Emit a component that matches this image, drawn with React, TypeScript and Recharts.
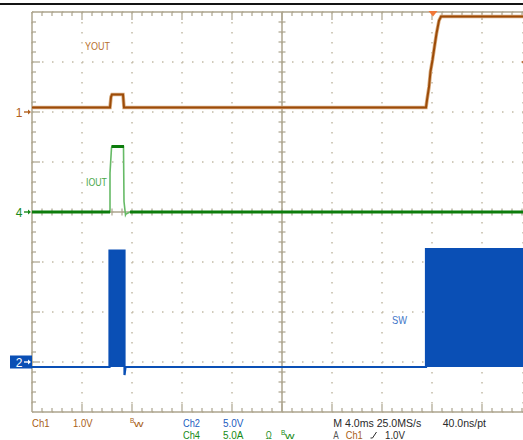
import React from 'react';
import {
  ComposedChart,
  Line,
  Area,
  Scatter,
  XAxis,
  YAxis,
  CartesianGrid,
  ReferenceDot,
} from 'recharts';

// Horizontal axis: screen divisions (M 4.0 ms/div), 0 = centre graticule line.
// Vertical axis: screen divisions, 0 = centre graticule line.
const X_DOMAIN: [number, number] = [-5, 4.82];
const Y_DOMAIN: [number, number] = [-4, 4];
const GRID_X = [-4, -3, -2, -1, 0, 1, 2, 3, 4];
const GRID_Y = [-3, -2, -1, 0, 1, 2, 3];

// Ch1 – VOUT (1.0 V/div)
const VOUT_T = [-5, -3.44, -3.42, -3.4, -3.18, -3.16, 2.88, 2.9, 2.94, 2.97, 3.01, 3.05, 3.09, 3.14, 3.18, 4.82];
const VOUT_V = [2.09, 2.09, 2.3, 2.35, 2.35, 2.09, 2.09, 2.24, 2.5, 2.81, 3.04, 3.31, 3.57, 3.83, 3.91, 3.91];

// Ch4 – IOUT (5.0 A/div)
const IOUT_T = [-5, -3.44, -3.44, -3.41, -3.4, -3.17, -3.16, -3.13, -3.12, -3.04, 4.82];
const IOUT_V = [0, 0, 0.78, 1.28, 1.31, 1.31, 0.21, -0.06, -0.04, 0, 0];
const IOUT_CORE_T = [-5, -3.44, -3.42, -3.41, -3.16, -3.15, -3.04, 4.82];
const IOUT_CORE_V = [0, 0, null, 1.31, 1.31, null, 0, 0];

// Ch2 – SW (5.0 V/div)
const SW_T = [-5, -3.45, -3.45, -3.15, -3.15, -3.13, 2.88, 2.88, 4.82];
const SW_V = [-3.1, -3.1, -0.77, -0.77, -3.26, -3.1, -3.1, -0.74, -0.74];
const SW_BASE = -3.1;

// Channel ground markers (divisions)
const CH1_LEVEL = 2;
const CH4_LEVEL = 0;
const CH2_LEVEL = -3;
const TRIG_POS = 3.02;
const TRIG_LEVEL = 3;

// Graticule subdivisions (5 per division)
const SUB_X = Array.from({ length: 49 }, (_, i) => Math.round((-4.8 + i * 0.2) * 10) / 10);
const SUB_Y = Array.from({ length: 39 }, (_, i) => Math.round((-3.8 + i * 0.2) * 10) / 10);

const zip = (t: (number | null)[], v: (number | null)[]) => t.map((x, i) => ({ t: x, v: v[i] }));

const voutData = zip(VOUT_T, VOUT_V);
const ioutData = zip(IOUT_T, IOUT_V);
const ioutCore = zip(IOUT_CORE_T, IOUT_CORE_V);
const swData = zip(SW_T, SW_V);

const topTicks = SUB_X.map((t) => ({ t, v: Y_DOMAIN[1] }));
const bottomTicks = SUB_X.map((t) => ({ t, v: Y_DOMAIN[0] }));
const leftTicks = SUB_Y.map((v) => ({ t: X_DOMAIN[0], v }));
const centreVTicks = SUB_Y.map((v) => ({ t: 0, v }));
const centreHTicks = SUB_X.map((t) => ({ t, v: 0 }));

const borderLeft = [{ t: X_DOMAIN[0], v: Y_DOMAIN[0] }, { t: X_DOMAIN[0], v: Y_DOMAIN[1] }];
const borderTop = [{ t: X_DOMAIN[0], v: Y_DOMAIN[1] }, { t: X_DOMAIN[1], v: Y_DOMAIN[1] }];
const borderBottom = [{ t: X_DOMAIN[0], v: Y_DOMAIN[0] }, { t: X_DOMAIN[1], v: Y_DOMAIN[0] }];
const centreV = [{ t: 0, v: Y_DOMAIN[0] }, { t: 0, v: Y_DOMAIN[1] }];
const centreH = [{ t: X_DOMAIN[0], v: 0 }, { t: X_DOMAIN[1], v: 0 }];

const GRAT = '#aca48e';
const FONT = '"Liberation Sans", Arial, sans-serif';

const isMajor = (x: number) => Math.abs(x - Math.round(x)) < 1e-6;

const tickShape = (kind: 'top' | 'bottom' | 'left' | 'cv' | 'ch') => (p: any) => {
  const { cx, cy, payload } = p;
  if (cx == null || cy == null) return <g />;
  let x2 = cx;
  let y2 = cy;
  let x1 = cx;
  let y1 = cy;
  if (kind === 'top') y2 = cy + (isMajor(payload.t) ? 8 : 4);
  if (kind === 'bottom') y2 = cy - (isMajor(payload.t) ? 8 : 4);
  if (kind === 'left') x2 = cx + (isMajor(payload.v) ? 8 : 4);
  if (kind === 'cv') {
    x1 = cx - 3.5;
    x2 = cx + 3.5;
  }
  if (kind === 'ch') {
    y1 = cy - 3.5;
    y2 = cy + 3.5;
  }
  return <line x1={x1} y1={y1} x2={x2} y2={y2} stroke={GRAT} strokeWidth={1.2} />;
};

const marker = (label: string, color: string, boxed: boolean) => (p: any) => {
  const { cx, cy } = p;
  const fg = boxed ? '#ffffff' : color;
  return (
    <g>
      {boxed && <rect x={cx - 22} y={cy - 6.5} width={22} height={13} fill="#0a4fb5" />}
      <text x={cx - 13} y={cy + 4.5} fontSize={12} fill={fg} textAnchor="middle" fontFamily={FONT}>
        {label}
      </text>
      <line x1={cx - 8} y1={cy} x2={cx - 2} y2={cy} stroke={fg} strokeWidth={1.4} />
      <polygon points={`${cx - 1},${cy} ${cx - 4},${cy - 2.5} ${cx - 4},${cy + 2.5}`} fill={fg} />
    </g>
  );
};

const traceLabel = (label: string, color: string, len: number) => (p: any) => {
  const { cx, cy } = p;
  return (
    <text
      x={cx}
      y={cy + 4}
      fontSize={11.5}
      fill={color}
      fontFamily={FONT}
      textLength={len}
      lengthAdjust="spacingAndGlyphs"
    >
      {label}
    </text>
  );
};

const trigTop = (p: any) => {
  const { cx, cy } = p;
  return <polygon points={`${cx - 4.5},${cy - 1} ${cx + 4.5},${cy - 1} ${cx},${cy + 4.5}`} fill="#f07838" />;
};

const trigLevel = (p: any) => {
  const { cx, cy } = p;
  return <polygon points={`${cx},${cy} ${cx + 4},${cy - 2.5} ${cx + 8},${cy - 2.5} ${cx + 8},${cy + 2.5} ${cx + 4},${cy + 2.5}`} fill="#b8652a" />;
};

const structLine = (data: any[], key: string) => (
  <Line
    key={key}
    data={data}
    dataKey="v"
    stroke={GRAT}
    strokeWidth={1.5}
    dot={false}
    activeDot={false}
    isAnimationActive={false}
    type="linear"
  />
);

const tickScatter = (data: any[], kind: 'top' | 'bottom' | 'left' | 'cv' | 'ch') => (
  <Scatter key={kind} data={data} dataKey="v" shape={tickShape(kind)} isAnimationActive={false} zIndex={-50} />
);

type T = { x: number; y: number; s: string; c: string; w?: number; fs?: number };
const BROWN = '#a85e16';
const BLUE = '#1c5cc0';
const GREEN = '#168a16';
const DARK = '#2a2a2a';
const infoTexts: T[] = [
  { x: 32, y: 427, s: 'Ch1', c: BROWN, w: 17.5 },
  { x: 73, y: 427, s: '1.0V', c: BROWN, w: 19.5 },
  { x: 183, y: 426.5, s: 'Ch2', c: BLUE, w: 17 },
  { x: 223, y: 426.5, s: '5.0V', c: BLUE, w: 20.5 },
  { x: 183, y: 438.5, s: 'Ch4', c: GREEN, w: 17 },
  { x: 223, y: 438.5, s: '5.0A', c: GREEN, w: 20.5 },
  { x: 265.7, y: 438.5, s: 'Ω', c: GREEN, w: 6 },
  { x: 333.3, y: 426.5, s: 'M 4.0ms 25.0MS/s', c: DARK, w: 88 },
  { x: 442.7, y: 426.5, s: '40.0ns/pt', c: DARK, w: 43.3 },
  { x: 333.3, y: 438.5, s: 'A', c: '#555555', w: 5.5 },
  { x: 345.7, y: 438.5, s: 'Ch1', c: BROWN, w: 17 },
  { x: 385, y: 438.5, s: '1.0V', c: DARK, w: 20 },
];

const Bw = ({ x, y, c }: { x: number; y: number; c: string }) => (
  <g fontFamily={FONT} fill={c}>
    <text x={x} y={y - 4} fontSize={6.5}>B</text>
    <text x={x + 4} y={y} fontSize={9} textLength={9.5} lengthAdjust="spacingAndGlyphs">w</text>
  </g>
);

export default function App() {
  return (
    <div style={{ position: 'absolute', left: 0, top: 0, width: 523, height: 440, background: '#fff', overflow: 'hidden' }}>
      <div style={{ position: 'absolute', left: 0, top: 3, width: 523, height: 2, background: '#141414' }} />
      <div style={{ position: 'absolute', left: 0, top: 0 }}>
        <ComposedChart width={523} height={440} margin={{ top: 12, right: 0, bottom: 28, left: 32 }}>
          <XAxis type="number" dataKey="t" domain={X_DOMAIN} ticks={GRID_X} hide />
          <YAxis type="number" dataKey="v" domain={Y_DOMAIN} ticks={GRID_Y} hide />
          <CartesianGrid stroke="#c2baa6" strokeWidth={1.5} strokeDasharray="1.5 8.5" />
          {structLine(borderLeft, 'bl')}
          {structLine(borderTop, 'bt')}
          {structLine(borderBottom, 'bb')}
          {structLine(centreV, 'cv')}
          {structLine(centreH, 'ch')}
          {tickScatter(topTicks, 'top')}
          {tickScatter(bottomTicks, 'bottom')}
          {tickScatter(leftTicks, 'left')}
          {tickScatter(centreVTicks, 'cv')}
          {tickScatter(centreHTicks, 'ch')}

          <Area
            data={swData}
            dataKey="v"
            type="linear"
            baseValue={SW_BASE}
            stroke="#0a4fb5"
            strokeWidth={2.2}
            fill="#0a4fb5"
            fillOpacity={1}
            dot={false}
            activeDot={false}
            isAnimationActive={false}
            zIndex={700}
          />
          <Line
            data={ioutData}
            dataKey="v"
            type="linear"
            stroke="#66ba66"
            strokeWidth={1.6}
            dot={false}
            activeDot={false}
            isAnimationActive={false}
            zIndex={700}
          />
          <Line
            data={ioutCore}
            dataKey="v"
            type="linear"
            stroke="#0c7c0c"
            strokeWidth={3}
            dot={false}
            activeDot={false}
            connectNulls={false}
            isAnimationActive={false}
            zIndex={700}
          />
          <Line
            data={voutData}
            dataKey="v"
            type="linear"
            stroke="#d8ad82"
            strokeWidth={3.6}
            dot={false}
            activeDot={false}
            isAnimationActive={false}
            zIndex={700}
          />
          <Line
            data={voutData}
            dataKey="v"
            type="linear"
            stroke="#9c4b08"
            strokeWidth={2}
            dot={false}
            activeDot={false}
            isAnimationActive={false}
            zIndex={700}
          />

          <ReferenceDot x={X_DOMAIN[0]} y={CH1_LEVEL} shape={marker('1', '#b0601e', false)} />
          <ReferenceDot x={X_DOMAIN[0]} y={CH4_LEVEL} shape={marker('4', '#1a8a1a', false)} />
          <ReferenceDot x={X_DOMAIN[0]} y={CH2_LEVEL} shape={marker('2', '#0a4fb5', true)} />
          <ReferenceDot x={TRIG_POS} y={Y_DOMAIN[1]} shape={trigTop} />
          <ReferenceDot x={4.78} y={TRIG_LEVEL} shape={trigLevel} />
          <ReferenceDot x={-3.94} y={3.32} shape={traceLabel('YOUT', '#b8702e', 25)} />
          <ReferenceDot x={-3.92} y={0.6} shape={traceLabel('IOUT', '#4aa84a', 21)} />
          <ReferenceDot x={2.2} y={-2.16} shape={traceLabel('SW', '#3d74c8', 15)} />
        </ComposedChart>
      </div>
      <svg width={523} height={440} style={{ position: 'absolute', left: 0, top: 0, pointerEvents: 'none' }}>
        {infoTexts.map((d, i) => (
          <text
            key={i}
            x={d.x}
            y={d.y}
            fill={d.c}
            fontSize={d.fs ?? 11}
            fontFamily={FONT}
            textLength={d.w}
            lengthAdjust="spacingAndGlyphs"
          >
            {d.s}
          </text>
        ))}
        <Bw x={130} y={427} c={BROWN} />
        <Bw x={281} y={438.5} c={GREEN} />
        <path d="M370.5,438 L372.5,438 L376.5,432" stroke={DARK} strokeWidth={1} fill="none" />
      </svg>
    </div>
  );
}
